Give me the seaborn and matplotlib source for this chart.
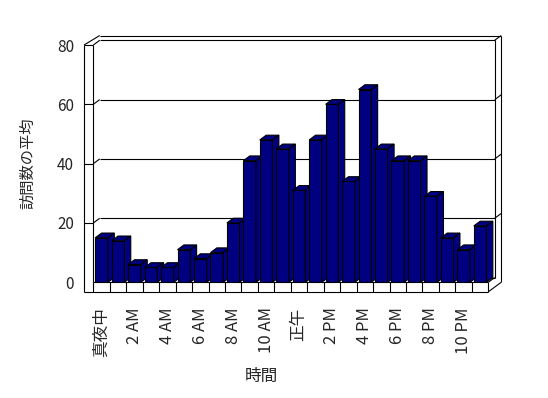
import pandas as pd
import matplotlib
matplotlib.use("Agg")
import matplotlib.pyplot as plt
from matplotlib.patches import Polygon
import seaborn as sns

# data (average visits per hour)
hours = list(range(24))
visits = [15, 14, 6, 5, 5, 11, 8, 10, 20, 41, 48, 45,
          31, 48, 60, 34, 65, 45, 41, 41, 29, 15, 11, 19]
tick_pos = list(range(0, 24, 2))
tick_labels = ["真夜中", "2 AM", "4 AM", "6 AM", "8 AM", "10 AM",
               "正午", "2 PM", "4 PM", "6 PM", "8 PM", "10 PM"]
y_ticks = [0, 20, 40, 60, 80]

NAVY = "#000080"
FONT = ["Noto Sans CJK JP", "DejaVu Sans"]

# depth of the fake 3d box (x in category units, y in value units)
DX, DY = 0.39, 1.6
WALL = 0.565   # left wall thickness
FLOOR = 3.2    # floor slab thickness
LW = 0.8


def line(ax, xs, ys, z=1):
    ax.plot(xs, ys, color="black", lw=LW, clip_on=False, zorder=z,
            solid_capstyle="butt")


def draw_frame(ax, n, top):
    x0, x1 = -0.5, n - 0.5
    # back wall + gridlines
    for v in y_ticks[1:-1]:
        line(ax, [x0 + DX, x1 + DX], [v + DY, v + DY])
        line(ax, [x0, x0 + DX], [v, v + DY])
        line(ax, [x0 - WALL, x0], [v, v])
        line(ax, [x1 + DX, x1 + 2 * DX], [v + DY, v + 2 * DY])
    # top edges
    line(ax, [x0 + DX, x1 + DX], [top + DY, top + DY])
    line(ax, [x0 + DX, x1 + 2 * DX], [top + 2 * DY, top + 2 * DY])
    line(ax, [x0 - WALL, x0 + DX], [top, top + 2 * DY])
    line(ax, [x0, x0 + DX], [top, top + DY])
    line(ax, [x0 - WALL, x0], [top, top])
    # left wall
    line(ax, [x0 - WALL, x0 - WALL], [top, -FLOOR])
    line(ax, [x0, x0], [top, 0])
    # right side
    line(ax, [x1 + DX, x1 + DX], [top + DY, DY])
    line(ax, [x1 + 2 * DX, x1 + 2 * DX], [top + 2 * DY, -FLOOR + 2 * DY])
    line(ax, [x1 + DX, x1 + 2 * DX], [top + DY, top + 2 * DY])
    # floor slab
    line(ax, [x0 + DX, x1 + DX], [DY, DY])
    line(ax, [x0, x1], [0, 0])
    line(ax, [x0 - WALL, x1], [-FLOOR, -FLOOR])
    line(ax, [x1, x1 + DX], [0, DY])
    line(ax, [x1, x1 + 2 * DX], [-FLOOR, -FLOOR + 2 * DY])
    for i in range(n + 1):
        line(ax, [i - 0.5, i - 0.5], [0, -FLOOR])


def main():
    sns.set_theme(style="white")
    plt.rcParams["font.family"] = FONT

    df = pd.DataFrame({"hour": hours, "visits": visits})

    fig = plt.figure(figsize=(5.48, 3.98), dpi=100)
    ax = fig.add_axes([0.1703, 0.2907, 0.7208, 0.5962])
    ax.set_facecolor("none")

    sns.barplot(data=df, x="hour", y="visits", color=NAVY, saturation=1,
                width=0.77, edgecolor="black", linewidth=LW, ax=ax)

    # add top and side faces so every bar looks like a block
    for i, bar in enumerate(ax.patches):
        bx, bw, h = bar.get_x(), bar.get_width(), bar.get_height()
        bar.set_zorder(3 + i * 0.1)
        top = Polygon([(bx, h), (bx + bw, h), (bx + bw + DX, h + DY),
                       (bx + DX, h + DY)], closed=True, fc=NAVY,
                      ec="black", lw=LW, clip_on=False, zorder=3 + i * 0.1 + 0.05)
        side = Polygon([(bx + bw, 0), (bx + bw, h), (bx + bw + DX, h + DY),
                        (bx + bw + DX, DY)], closed=True, fc=NAVY,
                       ec="black", lw=LW, clip_on=False, zorder=3 + i * 0.1 + 0.05)
        ax.add_patch(top)
        ax.add_patch(side)

    draw_frame(ax, len(hours), y_ticks[-1])

    ax.set_xlim(-0.5, len(hours) - 0.5)
    ax.set_ylim(0, y_ticks[-1])
    ax.set_xticks(tick_pos)
    ax.set_xticklabels(tick_labels, rotation=90, fontsize=12,
                       ha="right", va="center", rotation_mode="anchor")
    ax.set_yticks(y_ticks)
    ax.set_yticklabels([str(v) for v in y_ticks], fontsize=11)
    ax.tick_params(axis="x", length=0, pad=18)
    ax.tick_params(axis="y", length=0, pad=14)
    for s in ax.spines.values():
        s.set_visible(False)

    ax.set_xlabel("時間", fontsize=12)
    ax.xaxis.set_label_coords(0.425, -0.36)
    ax.set_ylabel("訪問数の平均", fontsize=11, labelpad=15)

    fig.savefig("out.png", dpi=100, facecolor="white")


if __name__ == "__main__":
    main()
